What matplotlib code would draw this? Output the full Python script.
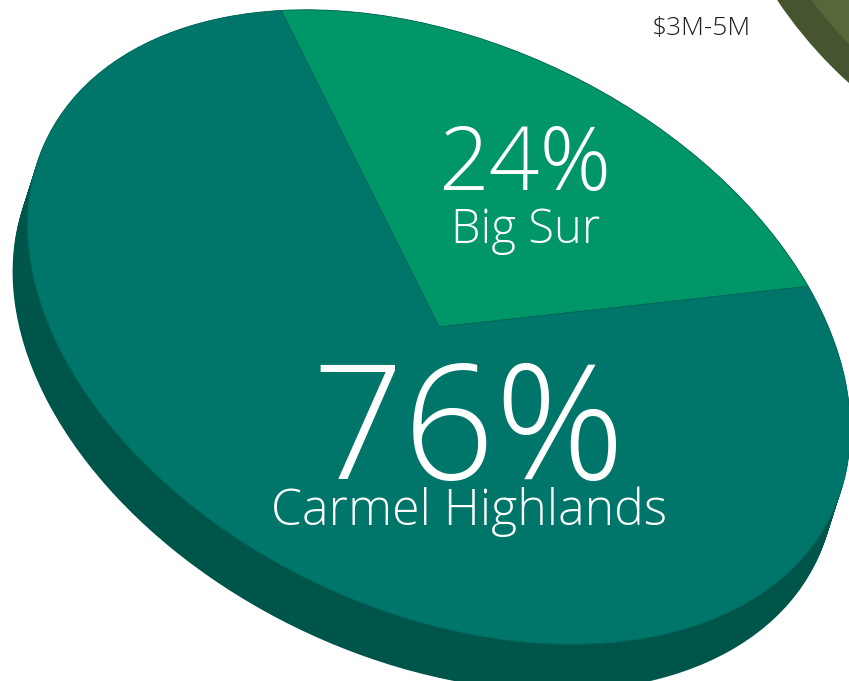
import numpy as np
import matplotlib.pyplot as plt
from matplotlib.transforms import Affine2D

# regional split of sales
regions = ["Big Sur", "Carmel Highlands"]
shares = [24, 76]
top_colors = ["#009668", "#00766a"]
side_colors = ["#00604f", "#00554a"]
title_text = "$3M-5M"

plt.rcParams['font.family'] = ['Open Sans', 'DejaVu Sans']

W, H = 849, 681
fig = plt.figure(figsize=(W / 100, H / 100), dpi=100)
ax = fig.add_axes([0, 0, 1, 1])

# tilted disc: unit pie squashed and rotated into pixel space (y down)
cx, cy = 439, 327
a, b, tilt = 435, 284, 25.4
depth = (-15, 47)
start = -129.8


def disc(shift=(0, 0), scale=(a, b), rot=tilt, centre=(cx, cy)):
    return (Affine2D().scale(*scale).rotate_deg(rot)
            .translate(centre[0] + shift[0], centre[1] + shift[1]) + ax.transData)


# side of the disc, swept down from the top face
for k in np.linspace(1, 0, 30):
    wedges, _ = ax.pie(shares, colors=side_colors, startangle=start,
                       wedgeprops=dict(linewidth=0))
    tr = disc((k * depth[0], k * depth[1]))
    for w in wedges:
        w.set_transform(tr)

wedges, _ = ax.pie(shares, colors=top_colors, startangle=start,
                   wedgeprops=dict(linewidth=0.6, edgecolor="#00685c"))
for w in wedges:
    w.set_transform(disc())

# neighbouring chart peeking in at the corner
olive, _ = ax.pie([1], colors=["#465530"], wedgeprops=dict(linewidth=0))
olive[0].set_transform(disc(scale=(449, 449), rot=0, centre=(1150, -250)))
olive, _ = ax.pie([1], colors=["#566839"], wedgeprops=dict(linewidth=0))
olive[0].set_transform(disc(scale=(425, 425), rot=0, centre=(1153, -253)))

ax.set_aspect('auto')
ax.set_xlim(0, W)
ax.set_ylim(H, 0)
ax.axis('off')

ax.text(525, 190, f"{shares[0]}%", color="white", fontsize=64,
        fontweight="light", ha="center", va="baseline")
ax.text(526, 243, regions[0], color="white", fontsize=34,
        fontweight="light", ha="center", va="baseline")
ax.text(468, 479, f"{shares[1]}%", color="white", fontsize=116,
        fontweight="light", ha="center", va="baseline")
ax.text(469, 525, regions[1], color="white", fontsize=36,
        fontweight="light", ha="center", va="baseline")
ax.text(702, 35, title_text, color="#222222", fontsize=19,
        fontweight="light", ha="center", va="baseline")

fig.savefig("out.png", dpi=100)
